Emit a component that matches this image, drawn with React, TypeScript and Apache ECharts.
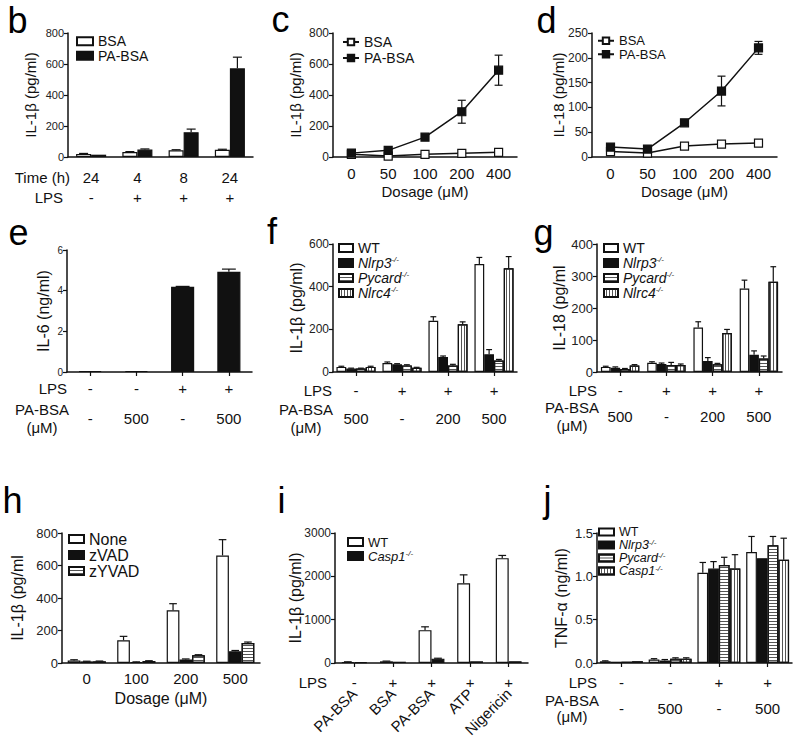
import React, { useEffect, useRef } from 'react';
import * as echarts from 'echarts';

const FONT = "'Liberation Sans', Arial, Helvetica, sans-serif";
const INK = '#111111';
const TICK_INK = '#222222';

// ---------- panel b ----------
const bTime = ['24', '4', '8', '24'];
const bLPS = ['-', '+', '+', '+'];
const bBSA = [20, 32, 43, 47];
const bBSAErr = [3, 3, 4, 3];
const bPABSA = [15, 48, 160, 572];
const bPABSAErr = [0, 4, 20, 72];

// ---------- panel c ----------
const cDose = ['0', '50', '100', '200', '400'];
const cBSA = [17, 6, 17, 24, 30];
const cBSAErr = [3, 3, 3, 3, 3];
const cPABSA = [25, 43, 128, 292, 560];
const cPABSAErr = [5, 6, 10, 74, 97];

// ---------- panel d ----------
const dDose = ['0', '50', '100', '200', '400'];
const dBSA = [11, 8, 22, 26, 28];
const dBSAErr = [2, 2, 3, 3, 3];
const dPABSA = [20, 16, 69, 133, 220];
const dPABSAErr = [3, 3, 5, 30, 13];

// ---------- panel e ----------
const eLPS = ['-', '-', '+', '+'];
const ePABSA = ['-', '500', '-', '500'];
const eIL6 = [0.05, 0.05, 4.19, 4.93];
const eIL6Err = [0, 0, 0.02, 0.13];

// ---------- panel f ----------
const fLPS = ['-', '+', '+', '+'];
const fPABSA = ['500', '-', '200', '500'];
const fWT = [24, 42, 240, 506];
const fWTErr = [3, 5, 19, 31];
const fNlrp3 = [16, 36, 70, 83];
const fNlrp3Err = [2, 3, 5, 22];
const fPycard = [16, 31, 30, 54];
const fPycardErr = [2, 3, 6, 5];
const fNlrc4 = [24, 20, 224, 486];
const fNlrc4Err = [3, 2, 11, 55];

// ---------- panel g ----------
const gLPS = ['-', '+', '+', '+'];
const gPABSA = ['500', '-', '200', '500'];
const gWT = [16, 29, 139, 261];
const gWTErr = [2, 3, 18, 26];
const gNlrp3 = [13, 25, 34, 54];
const gNlrp3Err = [3, 3, 11, 12];
const gPycard = [9, 22, 24, 42];
const gPycardErr = [2, 8, 3, 8];
const gNlrc4 = [20, 22, 122, 282];
const gNlrc4Err = [3, 3, 11, 47];

// ---------- panel h ----------
const hDose = ['0', '100', '200', '500'];
const hNone = [16, 140, 324, 662];
const hNoneErr = [4, 24, 41, 97];
const hZVAD = [10, 6, 22, 72];
const hZVADErr = [1, 1, 3, 5];
const hZYVAD = [10, 12, 47, 123];
const hZYVADErr = [2, 2, 4, 6];

// ---------- panel i ----------
const iLPS = ['-', '+', '+', '+', '+'];
const iStim = ['PA-BSA', 'BSA', 'PA-BSA', 'ATP', 'Nigericin'];
const iWT = [23, 39, 758, 1840, 2420];
const iWTErr = [5, 5, 77, 194, 62];
const iCasp1 = [20, 30, 100, 40, 40];
const iCasp1Err = [0, 0, 10, 0, 0];

// ---------- panel j ----------
const jLPS = ['-', '-', '+', '+'];
const jPABSA = ['-', '500', '-', '500'];
const jWT = [0.02, 0.04, 1.04, 1.28];
const jWTErr = [0.005, 0.01, 0.12, 0.18];
const jNlrp3 = [0.015, 0.03, 1.09, 1.21];
const jNlrp3Err = [0, 0.01, 0.08, 0];
const jPycard = [0.015, 0.05, 1.13, 1.36];
const jPycardErr = [0, 0.01, 0.09, 0.1];
const jCasp1 = [0.02, 0.05, 1.09, 1.19];
const jCasp1Err = [0, 0.01, 0.16, 0.25];

const PANEL_LETTERS = ['b', 'c', 'd', 'e', 'f', 'g', 'h', 'i', 'j'];
const GENES = ['Nlrp3', 'Pycard', 'Nlrc4', 'Casp1'];

// ---------- layout (pixels) ----------
const GRIDS = [
  { left: 68, top: 33, width: 185, height: 124 },
  { left: 333, top: 33, width: 184, height: 124 },
  { left: 592, top: 33, width: 185, height: 124 },
  { left: 67, top: 250, width: 185, height: 122 },
  { left: 333, top: 244, width: 184, height: 128 },
  { left: 597, top: 244, width: 185, height: 128 },
  { left: 62, top: 533, width: 198, height: 130 },
  { left: 335, top: 533, width: 193, height: 130 },
  { left: 597, top: 533, width: 195, height: 130 },
];
const LETTER_POS = [
  [7.5, 20.5], [271.5, 19.5], [536.5, 20.5],
  [8.5, 232], [267, 231], [533.5, 232],
  [2.5, 500.5], [277.5, 500.5], [543.5, 499.5],
];

const HSTRIPE = { symbol: 'rect', symbolSize: 1, color: '#555555', dashArrayX: [1, 0], dashArrayY: [1, 2], rotation: 0 };
const VSTRIPE = { ...HSTRIPE, rotation: Math.PI / 2 };

type Bar = { name: string; values: number[]; errs: number[]; fill: string; decal?: any };

function errorBars(xi: number, yi: number, values: number[], errs: number[], k: number, n: number, gap: number, both: boolean) {
  return {
    type: 'custom',
    xAxisIndex: xi,
    yAxisIndex: yi,
    silent: true,
    z: both ? 1 : 4,
    encode: { x: 0, y: 1 },
    data: values.map((v, i) => [i, v, errs[i]]),
    renderItem: (params: any, api: any) => {
      const i = api.value(0);
      const v = api.value(1);
      const e = api.value(2);
      if (!e) return null;
      const band = api.size([1, 0])[0];
      const bw = (band * (1 - gap)) / n;
      const base = api.coord([i, v]);
      const x = base[0] - (n * bw) / 2 + (k + 0.5) * bw;
      const top = api.coord([i, v + e])[1];
      const bot = both ? api.coord([i, v - e])[1] : base[1];
      const cap = both ? 4 : Math.max(2.5, bw * 0.3);
      const st = { stroke: INK, lineWidth: 1.2 };
      const children: any[] = [
        { type: 'line', shape: { x1: x, y1: bot, x2: x, y2: top }, style: st },
        { type: 'line', shape: { x1: x - cap, y1: top, x2: x + cap, y2: top }, style: st },
      ];
      if (both) children.push({ type: 'line', shape: { x1: x - cap, y1: bot, x2: x + cap, y2: bot }, style: st });
      return { type: 'group', children };
    },
  };
}

function buildOption() {
  const xAxis: any[] = [];
  const yAxis: any[] = [];
  const series: any[] = [];
  const legend: any[] = [];

  const grid = GRIDS.map((g) => ({ ...g, containLabel: false, outerBoundsMode: 'none' }));

  const mainX = (gi: number, data: string[], o: any = {}) => {
    xAxis.push({
      type: 'category', gridIndex: gi, data, boundaryGap: true, position: 'bottom',
      axisLine: { show: true, onZero: false, lineStyle: { color: INK, width: 1.5 } },
      axisTick: { show: !!o.ticks, alignWithLabel: true, length: 4, lineStyle: { color: INK, width: 1.2 } },
      axisLabel: {
        show: !!o.labels, interval: 0, margin: o.margin ?? 8, rotate: o.rotate ?? 0,
        fontSize: o.fontSize ?? 15, color: INK, fontFamily: FONT,
      },
      splitLine: { show: false },
      name: o.name, nameLocation: 'middle', nameGap: o.nameGap ?? 25, nameMoveOverlap: false,
      nameTextStyle: { fontSize: o.nameSize ?? o.fontSize ?? 15, color: INK, fontFamily: FONT },
    });
    return xAxis.length - 1;
  };

  const rowX = (gi: number, data: string[], offset: number, name: string, nameGap: number, o: any = {}) => {
    xAxis.push({
      type: 'category', gridIndex: gi, data, boundaryGap: true, position: 'bottom', offset,
      axisLine: { show: false, onZero: false }, axisTick: { show: false }, splitLine: { show: false },
      axisLabel: {
        show: true, interval: 0, margin: 0, verticalAlign: 'middle',
        fontSize: o.fontSize ?? 15, color: INK, fontFamily: FONT,
      },
      name, nameLocation: 'start', nameGap, nameMoveOverlap: false,
      nameTextStyle: {
        fontSize: o.fontSize ?? 15, color: INK, fontFamily: FONT,
        align: o.align ?? 'right', verticalAlign: 'middle', lineHeight: o.lineHeight ?? 18,
      },
    });
    return xAxis.length - 1;
  };

  const valY = (gi: number, max: number, interval: number, name: string, nameGap: number, o: any = {}) => {
    yAxis.push({
      type: 'value', gridIndex: gi, min: 0, max, interval,
      axisLine: { show: true, lineStyle: { color: INK, width: 1.5 } },
      axisTick: { show: true, length: 4, inside: false, lineStyle: { color: INK, width: 1.2 } },
      splitLine: { show: false },
      axisLabel: {
        fontSize: o.tickSize ?? 12, color: TICK_INK, fontFamily: FONT, margin: 4,
        formatter: o.fmt ?? ((v: number) => String(v)),
      },
      name, nameLocation: 'middle', nameRotate: 90, nameGap, nameMoveOverlap: false,
      nameTextStyle: { fontSize: o.nameSize ?? 15, color: INK, fontFamily: FONT },
    });
    return yAxis.length - 1;
  };

  const addBars = (xi: number, yi: number, bars: Bar[], gap: number) => {
    const n = bars.length;
    bars.forEach((b) => {
      const itemStyle: any = { color: b.fill, borderColor: INK, borderWidth: 1.2 };
      if (b.decal) itemStyle.decal = b.decal;
      series.push({
        type: 'bar', name: b.name, xAxisIndex: xi, yAxisIndex: yi, data: b.values,
        barGap: '0%', barCategoryGap: `${gap * 100}%`, silent: true, z: 2,
        itemStyle, emphasis: { disabled: true },
      });
    });
    bars.forEach((b, k) => series.push(errorBars(xi, yi, b.values, b.errs, k, n, gap, false)));
  };

  const addLine = (xi: number, yi: number, name: string, values: number[], errs: number[], fill: string) => {
    series.push({
      type: 'line', name, xAxisIndex: xi, yAxisIndex: yi, data: values, symbol: 'rect', symbolSize: 8, z: 3,
      lineStyle: { color: INK, width: 1.5 }, itemStyle: { color: fill, borderColor: INK, borderWidth: 1.2 },
      silent: true, emphasis: { disabled: true },
    });
    series.push(errorBars(xi, yi, values, errs, 0, 1, 0, true));
  };

  const fmtLegend = (name: string) => {
    const label = name.split('|')[1];
    return GENES.includes(label) ? `{it|${label}}{sup|-/-}` : label;
  };
  const addLegend = (items: string[], left: number, top: number, fontSize: number, lineHeight: number, iw: number, ih: number, isBar = true) => {
    const sup = Math.round(fontSize * 0.6);
    legend.push({
      orient: 'vertical', left, top, padding: 0, itemGap: 0, itemWidth: iw, itemHeight: ih, selectedMode: false,
      data: items.map((n) => (isBar ? { name: n, icon: 'rect' } : { name: n })),
      formatter: fmtLegend,
      textStyle: {
        fontFamily: FONT, fontSize, lineHeight, color: INK,
        rich: {
          it: { fontStyle: 'italic', fontFamily: FONT, fontSize, lineHeight, color: INK },
          sup: { fontStyle: 'italic', fontFamily: FONT, fontSize: sup, lineHeight: sup, verticalAlign: 'top', color: INK },
        },
      },
    });
  };

  // ----- b -----
  {
    const xi = mainX(0, bTime, {});
    rowX(0, bTime, 20, 'Time (h)', -2);
    rowX(0, bLPS, 40, 'LPS', 5);
    const yi = valY(0, 800, 200, 'IL-1β (pg/ml)', 30, { tickSize: 11 });
    addBars(xi, yi, [
      { name: 'b|BSA', values: bBSA, errs: bBSAErr, fill: '#ffffff' },
      { name: 'b|PA-BSA', values: bPABSA, errs: bPABSAErr, fill: INK },
    ], 0.35);
    addLegend(['b|BSA', 'b|PA-BSA'], 76, 34, 14, 14.5, 16, 8);
  }
  // ----- c -----
  {
    const xi = mainX(1, cDose, { labels: true, margin: 9, name: 'Dosage (μM)', nameGap: 27 });
    const yi = valY(1, 800, 200, 'IL-1β (pg/ml)', 30);
    addLine(xi, yi, 'c|BSA', cBSA, cBSAErr, '#ffffff');
    addLine(xi, yi, 'c|PA-BSA', cPABSA, cPABSAErr, INK);
    addLegend(['c|BSA', 'c|PA-BSA'], 342, 34, 14, 16, 16, 8, false);
  }
  // ----- d -----
  {
    const xi = mainX(2, dDose, { labels: true, margin: 9, name: 'Dosage (μM)', nameGap: 27 });
    const yi = valY(2, 250, 50, 'IL-18 (pg/ml)', 26);
    addLine(xi, yi, 'd|BSA', dBSA, dBSAErr, '#ffffff');
    addLine(xi, yi, 'd|PA-BSA', dPABSA, dPABSAErr, INK);
    addLegend(['d|BSA', 'd|PA-BSA'], 597, 34, 13, 13.5, 16, 8, false);
  }
  // ----- e -----
  {
    const xi = mainX(3, eLPS, { ticks: true });
    rowX(3, eLPS, 16, 'LPS', 0);
    rowX(3, ePABSA, 46, 'PA-BSA\n(μM)', 25, { align: 'center', lineHeight: 18 });
    const yi = valY(3, 6, 2, 'IL-6 (ng/ml)', 16, { tickSize: 10, nameSize: 16 });
    addBars(xi, yi, [{ name: 'e|IL-6', values: eIL6, errs: eIL6Err, fill: INK }], 0.5);
  }
  // ----- f -----
  {
    const xi = mainX(4, fLPS, { ticks: true });
    rowX(4, fLPS, 18, 'LPS', 1);
    rowX(4, fPABSA, 46, 'PA-BSA\n(μM)', 27, { align: 'center', lineHeight: 18 });
    const yi = valY(4, 600, 200, 'IL-1β (pg/ml)', 29, { nameSize: 16 });
    addBars(xi, yi, [
      { name: 'f|WT', values: fWT, errs: fWTErr, fill: '#ffffff' },
      { name: 'f|Nlrp3', values: fNlrp3, errs: fNlrp3Err, fill: INK },
      { name: 'f|Pycard', values: fPycard, errs: fPycardErr, fill: '#ffffff', decal: HSTRIPE },
      { name: 'f|Nlrc4', values: fNlrc4, errs: fNlrc4Err, fill: '#ffffff', decal: VSTRIPE },
    ], 0.15);
    addLegend(['f|WT', 'f|Nlrp3', 'f|Pycard', 'f|Nlrc4'], 338, 240.5, 14, 15, 14, 8);
  }
  // ----- g -----
  {
    const xi = mainX(5, gLPS, { ticks: true });
    rowX(5, gLPS, 18, 'LPS', 0);
    rowX(5, gPABSA, 44, 'PA-BSA\n(μM)', 25, { align: 'center', lineHeight: 18 });
    const yi = valY(5, 400, 100, 'IL-18 (pg/ml', 30, { tickSize: 13, nameSize: 16 });
    addBars(xi, yi, [
      { name: 'g|WT', values: gWT, errs: gWTErr, fill: '#ffffff' },
      { name: 'g|Nlrp3', values: gNlrp3, errs: gNlrp3Err, fill: INK },
      { name: 'g|Pycard', values: gPycard, errs: gPycardErr, fill: '#ffffff', decal: HSTRIPE },
      { name: 'g|Nlrc4', values: gNlrc4, errs: gNlrc4Err, fill: '#ffffff', decal: VSTRIPE },
    ], 0.17);
    addLegend(['g|WT', 'g|Nlrp3', 'g|Pycard', 'g|Nlrc4'], 603, 240.5, 14, 15, 14, 8);
  }
  // ----- h -----
  {
    const xi = mainX(6, hDose, { labels: true, margin: 8, name: 'Dosage (μM)', nameGap: 27, fontSize: 15, nameSize: 16 });
    const yi = valY(6, 800, 200, 'IL-1β (pg/ml', 37, { tickSize: 13, nameSize: 16 });
    addBars(xi, yi, [
      { name: 'h|None', values: hNone, errs: hNoneErr, fill: '#ffffff' },
      { name: 'h|zVAD', values: hZVAD, errs: hZVADErr, fill: INK },
      { name: 'h|zYVAD', values: hZYVAD, errs: hZYVADErr, fill: '#ffffff', decal: HSTRIPE },
    ], 0.23);
    addLegend(['h|None', 'h|zVAD', 'h|zYVAD'], 68, 531, 16, 16, 15, 8);
  }
  // ----- i -----
  {
    const xi = mainX(7, iStim, { ticks: true, labels: true, rotate: 45, margin: 28, fontSize: 15 });
    rowX(7, iLPS, 19, 'LPS', 8);
    const yi = valY(7, 3000, 1000, 'IL-1β (pg/ml)', 32, { nameSize: 16 });
    addBars(xi, yi, [
      { name: 'i|WT', values: iWT, errs: iWTErr, fill: '#ffffff' },
      { name: 'i|Casp1', values: iCasp1, errs: iCasp1Err, fill: INK },
    ], 0.33);
    addLegend(['i|WT', 'i|Casp1'], 347, 535, 13, 14, 15, 8);
  }
  // ----- j -----
  {
    const xi = mainX(8, jLPS, { ticks: true });
    rowX(8, jLPS, 19, 'LPS', 0);
    rowX(8, jPABSA, 45, 'PA-BSA\n(μM)', 25, { align: 'center', lineHeight: 16 });
    const yi = valY(8, 1.5, 0.5, 'TNF-α (ng/ml)', 28, { tickSize: 13, nameSize: 16, fmt: (v: number) => v.toFixed(1) });
    addBars(xi, yi, [
      { name: 'j|WT', values: jWT, errs: jWTErr, fill: '#ffffff' },
      { name: 'j|Nlrp3', values: jNlrp3, errs: jNlrp3Err, fill: INK },
      { name: 'j|Pycard', values: jPycard, errs: jPycardErr, fill: '#ffffff', decal: HSTRIPE },
      { name: 'j|Casp1', values: jCasp1, errs: jCasp1Err, fill: '#ffffff', decal: VSTRIPE },
    ], 0.12);
    addLegend(['j|WT', 'j|Nlrp3', 'j|Pycard', 'j|Casp1'], 598, 525.5, 12.5, 12.5, 15, 7);
  }

  const graphic = PANEL_LETTERS.map((t, k) => ({
    type: 'text', x: LETTER_POS[k][0], y: LETTER_POS[k][1], silent: true,
    style: { text: t, fontSize: 36, fontFamily: FONT, fill: '#000', verticalAlign: 'middle', align: 'left' },
  }));

  return {
    animation: false,
    backgroundColor: '#ffffff',
    textStyle: { fontFamily: FONT },
    tooltip: { show: false },
    grid, xAxis, yAxis, series, legend, graphic,
  };
}

export default function App() {
  const ref = useRef<HTMLDivElement>(null);
  useEffect(() => {
    if (!ref.current) return;
    const chart = echarts.init(ref.current, null, { renderer: 'svg', width: 800, height: 746 });
    chart.setOption(buildOption() as any);
    return () => chart.dispose();
  }, []);
  return (
    <div
      ref={ref}
      style={{ position: 'absolute', left: 0, top: 0, width: 800, height: 746, background: '#fff' }}
    />
  );
}
